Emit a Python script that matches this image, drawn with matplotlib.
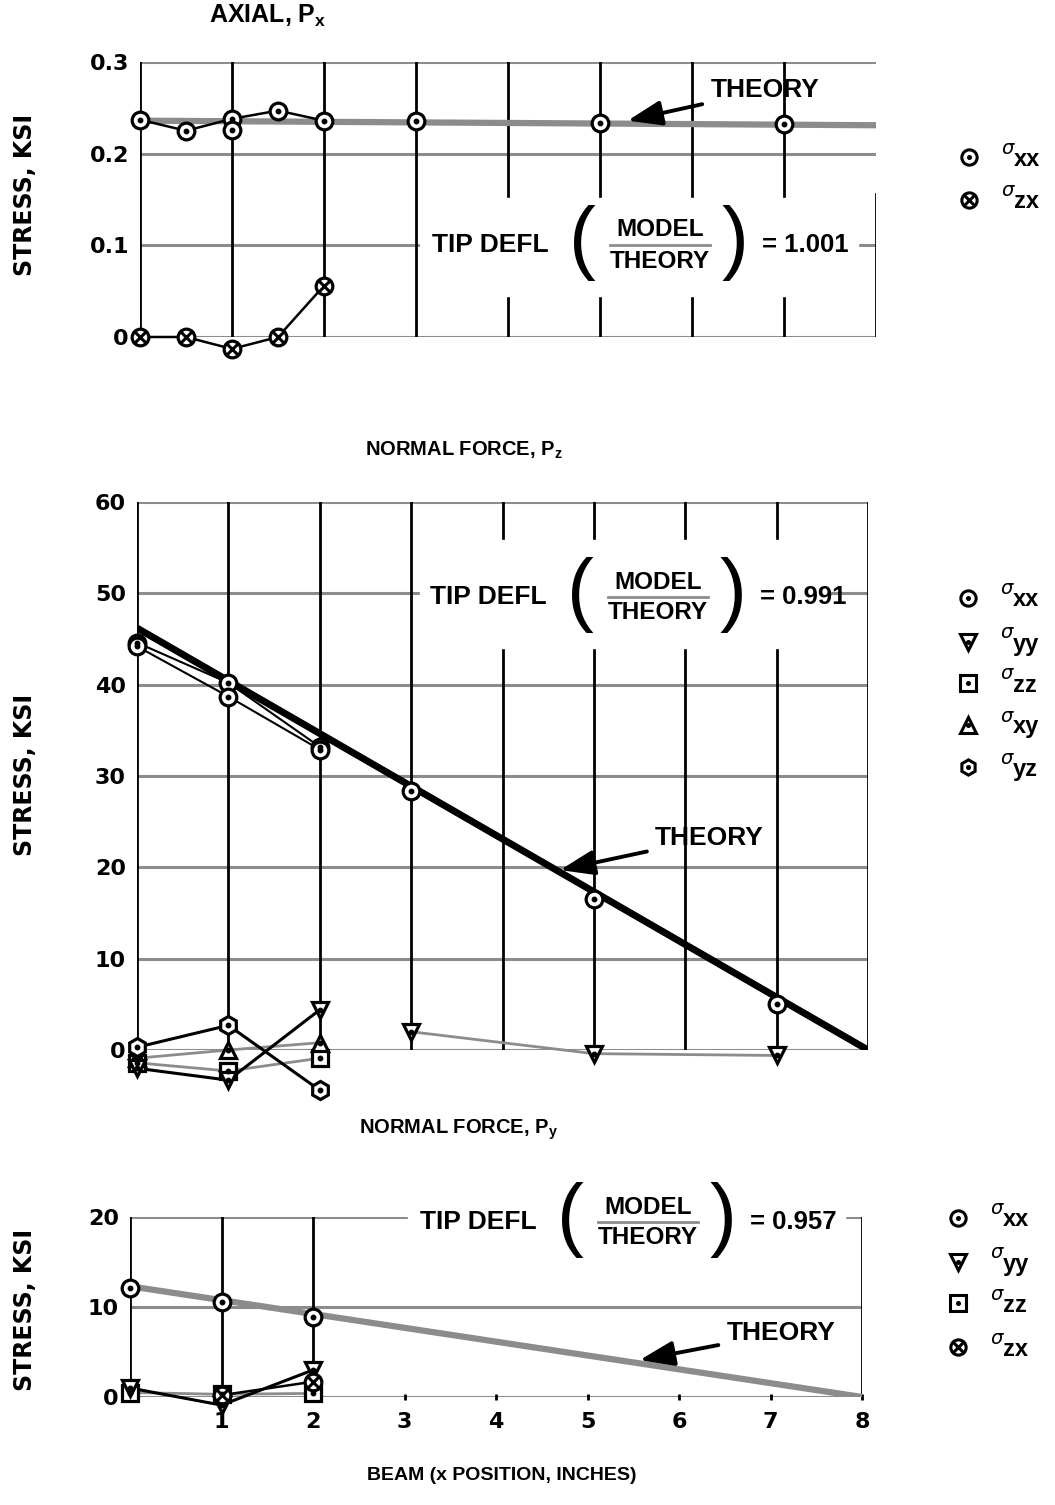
import matplotlib
matplotlib.use("Agg")
import matplotlib.pyplot as plt
from matplotlib.patches import Rectangle
from matplotlib.lines import Line2D

W, H = 1055, 1505
GRAY = "#8c8c8c"
LAB = ["Liberation Sans", "DejaVu Sans"]

# ---- data ----
# axial, Px
ax_xx_x = [0, 0.5, 1, 1.5, 2]
ax_xx_y = [0.237, 0.225, 0.238, 0.247, 0.236]
ax_xx_extra_x = [1, 3, 5, 7]
ax_xx_extra_y = [0.226, 0.236, 0.233, 0.232]
ax_zx_x = [0, 0.5, 1, 1.5, 2]
ax_zx_y = [0.0, 0.0, -0.013, 0.0, 0.056]
ax_theory_x = [0, 8]
ax_theory_y = [0.236, 0.231]

# normal force, Pz
pz_xx_a_x = [0, 1, 2]
pz_xx_a_y = [44.6, 40.2, 33.2]
pz_xx_b_x = [0, 1, 2]
pz_xx_b_y = [44.2, 38.7, 32.9]
pz_xx_c_x = [3, 5, 7]
pz_xx_c_y = [28.4, 16.5, 5.0]
pz_yy_x = [0, 1, 2]
pz_yy_y = [-2.0, -3.3, 4.4]
pz_yy_far_x = [3, 5, 7]
pz_yy_far_y = [2.0, -0.4, -0.6]
pz_zz_x = [0, 1, 2]
pz_zz_y = [-1.4, -2.3, -0.9]
pz_xy_x = [0, 1, 2]
pz_xy_y = [-0.9, 0.0, 0.8]
pz_yz_x = [0, 1, 2]
pz_yz_y = [0.3, 2.7, -4.4]
pz_theory_x = [0, 8]
pz_theory_y = [46.2, 0]

# normal force, Py
py_xx_x = [0, 1, 2]
py_xx_y = [12.1, 10.6, 8.9]
py_yy_x = [0, 1, 2]
py_yy_y = [1.0, -0.9, 3.0]
py_zz_x = [0, 1, 2]
py_zz_y = [0.5, 0.3, 0.4]
py_zx_x = [1, 2]
py_zx_y = [0.2, 1.7]
py_theory_x = [0, 8]
py_theory_y = [12.3, 0]

ticks_x = [1, 2, 3, 4, 5, 6, 7, 8]

plt.rcParams["font.family"] = ["DejaVu Sans"]
plt.rcParams["font.weight"] = "bold"
plt.rcParams["mathtext.fontset"] = "custom"
plt.rcParams["mathtext.bf"] = "Liberation Sans:bold"
plt.rcParams["mathtext.rm"] = "Liberation Sans:bold"

fig = plt.figure(figsize=(W / 100, H / 100), dpi=100)


def box(l, t, r, b):
    return [l / W, 1 - b / H, (r - l) / W, (b - t) / H]


def px(x, y):
    return x / W, 1 - y / H


def marker(ax, x, y, m, ls="none", lc="black", lw=1.6, ms=12, dot=True, cross=False):
    if ls != "none":
        ax.plot(x, y, ls=ls, color=lc, lw=lw, zorder=3, clip_on=False)
    ax.plot(x, y, ls="none", marker=m, ms=ms, mfc="white", mec="black", mew=2.3,
            zorder=4, clip_on=False)
    if dot:
        ax.plot(x, y, ls="none", marker="o", ms=3.2, color="black", zorder=5, clip_on=False)
    if cross:
        ax.plot(x, y, ls="none", marker="x", ms=8, mew=2.2, color="black", zorder=5,
                clip_on=False)


def setup(ax, ylim, yticks, ylabels, vlines):
    ax.set_xlim(0, 8)
    ax.set_ylim(*ylim)
    for s in ax.spines.values():
        s.set_visible(False)
    ax.set_yticks(yticks)
    ax.set_yticklabels(ylabels, fontsize=16, fontweight="bold")
    ax.tick_params(axis="y", length=0, pad=8)
    ax.set_xticks([])
    for yv in yticks:
        ax.axhline(yv, color=GRAY, lw=2.2, zorder=1)
    for xv, y0, y1 in vlines:
        ax.axvline(xv, y0, y1, color="black", lw=2.0, zorder=2)


def tip_block(x0, yc, value, cover):
    # white block that interrupts the grid
    l, t, r, b = cover
    fig.add_artist(Rectangle((l / W, 1 - b / H), (r - l) / W, (b - t) / H,
                             transform=fig.transFigure, color="white", zorder=2))
    fig.text(*px(x0, yc), "TIP DEFL", fontsize=19, fontweight="bold", family=LAB,
             ha="left", va="center", zorder=3)
    fig.text(*px(x0 + 150, yc - 2), "(", fontsize=58, fontweight="normal",
             family="Liberation Sans", ha="center", va="center", zorder=3)
    fig.text(*px(x0 + 228, yc - 15), "MODEL", fontsize=17.5, fontweight="bold", family=LAB,
             ha="center", va="center", zorder=3)
    fig.add_artist(Line2D([(x0 + 178) / W, (x0 + 278) / W], [1 - yc / H, 1 - yc / H],
                          transform=fig.transFigure, color=GRAY, lw=2, zorder=3))
    fig.text(*px(x0 + 228, yc + 16), "THEORY", fontsize=17.5, fontweight="bold", family=LAB,
             ha="center", va="center", zorder=3)
    fig.text(*px(x0 + 303, yc - 2), ")", fontsize=58, fontweight="normal",
             family="Liberation Sans", ha="center", va="center", zorder=3)
    fig.text(*px(x0 + 330, yc), "= " + value, fontsize=18.5, fontweight="bold", family=LAB,
             ha="left", va="center", zorder=3)


def legend(x, ys, items):
    for yy, (m, sub, cross) in zip(ys, items):
        lax = fig.add_axes([(x - 12) / W, 1 - (yy + 12) / H, 24 / W, 24 / H])
        lax.set_xlim(-1, 1)
        lax.set_ylim(-1, 1)
        lax.axis("off")
        lax.plot([0], [0], marker=m, ms=11, mfc="white", mec="black", mew=2.2, ls="none")
        if cross:
            lax.plot([0], [0], marker="x", ms=7, mew=2.2, color="black", ls="none")
        else:
            lax.plot([0], [0], marker="o", ms=2.6, color="black", ls="none")
        fig.text(*px(x + 32, yy - 9), "σ", fontsize=14, fontstyle="italic",
                 fontweight="normal", ha="left", va="center")
        fig.text(*px(x + 45, yy + 2), sub, fontsize=17, fontweight="bold", family=LAB,
                 ha="left", va="center")


def theory_label(ax, tx, ty, ax_, ay):
    ax.annotate("THEORY", xy=(ax_, ay), xytext=(tx, ty), fontsize=19, fontweight="bold",
                family=LAB, ha="left", va="center", zorder=6,
                arrowprops=dict(arrowstyle="-|>,head_length=1.1,head_width=0.4",
                                color="black", lw=2.8, shrinkA=4, shrinkB=0))


# ---------------- top: axial ----------------
ax1 = fig.add_axes(box(140, 62, 876, 337))
setup(ax1, (0, 0.3), [0, 0.1, 0.2, 0.3], ["0", "0.1", "0.2", "0.3"],
      [(0, 0, 1), (1, 0, 1), (2, 0, 1), (3, 0, 1), (4, 0, 1), (5, 0, 1),
       (6, 0, 1), (7, 0, 1), (8, 0, 0.52)])
ax1.plot(ax_theory_x, ax_theory_y, color=GRAY, lw=4.5, zorder=3, solid_capstyle="butt")
marker(ax1, ax_xx_x, ax_xx_y, "o", ls="-", lw=1.8)
marker(ax1, ax_xx_extra_x, ax_xx_extra_y, "o")
marker(ax1, ax_zx_x, ax_zx_y, "o", ls="-", lw=1.8, dot=False, cross=True)
theory_label(ax1, 6.2, 0.269, 5.3, 0.236)
tip_block(432, 245, "1.001", (420, 198, 858, 296))
fig.text(*px(268, 16), r"AXIAL, P$_\mathbf{x}$", fontsize=18, fontweight="bold", family=LAB,
         ha="center", va="center")
fig.text(*px(25, 195), "STRESS, KSI", rotation=90, fontsize=17, fontweight="bold",
         ha="center", va="center")
legend(969, [157, 200], [("o", "xx", False), ("o", "zx", True)])

# ---------------- middle: normal force Pz ----------------
ax2 = fig.add_axes(box(137, 502, 868, 1050))
setup(ax2, (0, 60), [0, 10, 20, 30, 40, 50, 60],
      ["0", "10", "20", "30", "40", "50", "60"],
      [(v, 0, 1) for v in range(9)])
ax2.plot(pz_theory_x, pz_theory_y, color="black", lw=5, zorder=3, solid_capstyle="butt")
marker(ax2, pz_xx_a_x, pz_xx_a_y, "o", ls="-", lw=1.5)
marker(ax2, pz_xx_b_x, pz_xx_b_y, "o", ls="-", lw=1.5)
marker(ax2, pz_xx_c_x, pz_xx_c_y, "o")
marker(ax2, pz_zz_x, pz_zz_y, "s", ls="-", lc=GRAY, lw=2, ms=11)
marker(ax2, pz_xy_x, pz_xy_y, "^", ls="-", lc=GRAY, lw=2, ms=12)
marker(ax2, pz_yy_x, pz_yy_y, "v", ls="-", lw=2.2, ms=12)
marker(ax2, pz_yy_far_x, pz_yy_far_y, "v", ls="-", lc=GRAY, lw=2, ms=12)
marker(ax2, pz_yz_x, pz_yz_y, "h", ls="-", lw=2.2, ms=13)
theory_label(ax2, 5.67, 23.2, 4.63, 19.7)
tip_block(430, 597, "0.991", (420, 540, 828, 648))
fig.text(*px(464, 450), r"NORMAL FORCE, P$_\mathbf{z}$", fontsize=14.5, fontweight="bold",
         family=LAB, ha="center", va="center")
fig.text(*px(25, 775), "STRESS, KSI", rotation=90, fontsize=17, fontweight="bold",
         ha="center", va="center")
legend(968, [598, 642, 683, 725, 767],
       [("o", "xx", False), ("v", "yy", False), ("s", "zz", False),
        ("^", "xy", False), ("h", "yz", False)])

# ---------------- bottom: normal force Py ----------------
ax3 = fig.add_axes(box(130, 1217, 862, 1397))
setup(ax3, (0, 20), [0, 10, 20], ["0", "10", "20"],
      [(0, 0, 1), (1, 0, 1), (2, 0, 1), (8, 0, 1)])
ax3.plot(py_theory_x, py_theory_y, color=GRAY, lw=4.5, zorder=3, solid_capstyle="butt")
marker(ax3, py_xx_x, py_xx_y, "o")
marker(ax3, py_zz_x, py_zz_y, "s", ls="-", lc=GRAY, lw=2, ms=11)
marker(ax3, py_yy_x, py_yy_y, "v", ls="-", lw=2.2, ms=12)
marker(ax3, py_zx_x, py_zx_y, "o", ls="-", lw=1.8, dot=False, cross=True)
ax3.set_xticks(ticks_x)
ax3.set_xticklabels([str(t) for t in ticks_x], fontsize=16, fontweight="bold")
ax3.tick_params(axis="x", length=5, width=2, direction="inout", pad=8)
theory_label(ax3, 6.52, 7.1, 5.57, 4.1)
tip_block(420, 1222, "0.957", (408, 1190, 845, 1255))
fig.text(*px(458, 1130), r"NORMAL FORCE, P$_\mathbf{y}$", fontsize=14.5, fontweight="bold",
         family=LAB, ha="center", va="center")
fig.text(*px(25, 1310), "STRESS, KSI", rotation=90, fontsize=17, fontweight="bold",
         ha="center", va="center")
fig.text(*px(502, 1476), "BEAM (x POSITION, INCHES)", fontsize=14, fontweight="bold",
         family=LAB, ha="center", va="center")
legend(958, [1218, 1262, 1303, 1347],
       [("o", "xx", False), ("v", "yy", False), ("s", "zz", False), ("o", "zx", True)])

fig.savefig("out.png", dpi=100, facecolor="white")
